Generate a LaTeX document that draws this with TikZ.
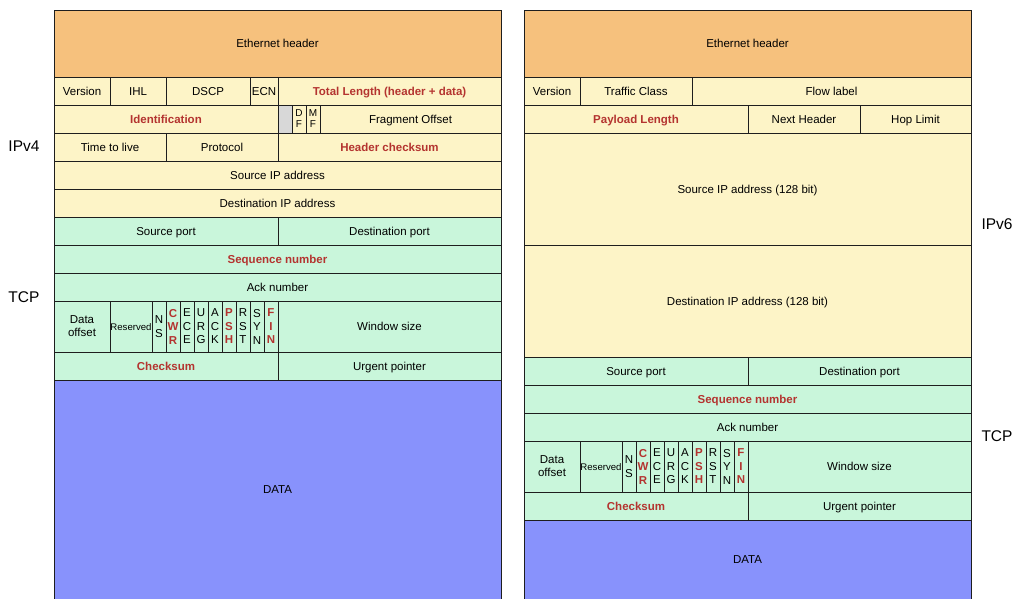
\documentclass[tikz,border=0pt]{standalone}
\usepackage{fontspec}
\setmainfont{Liberation Sans}
\definecolor{ethc}{RGB}{246,193,125}
\definecolor{ipc}{RGB}{253,244,199}
\definecolor{tcpc}{RGB}{201,246,219}
\definecolor{datac}{RGB}{136,146,252}
\definecolor{redt}{RGB}{180,52,48}
\definecolor{grayc}{RGB}{216,216,216}
\definecolor{linec}{RGB}{30,30,30}
\tikzset{
  cell/.style={draw=linec, line width=0.8pt, inner sep=0pt, outer sep=0pt, align=center,
    font=\fontsize{11.5}{13}\selectfont, text height=9.8pt, text depth=1.2pt},
  ml/.style={text height={}, text depth={}},
  eth/.style={fill=ethc},
  ip/.style={fill=ipc},
  tcp/.style={fill=tcpc},
  dat/.style={fill=datac},
  gry/.style={fill=grayc},
  hl/.style={text=redt, font=\fontsize{11.5}{13}\selectfont\bfseries},
  smallt/.style={font=\fontsize{9.6}{10}\selectfont},
  flagt/.style={ml, font=\fontsize{11.5}{13.5}\selectfont},
  flagr/.style={ml, text=redt, font=\fontsize{11.5}{13.5}\selectfont\bfseries},
  tinyt/.style={ml, font=\fontsize{10}{11}\selectfont},
  sidelabel/.style={font=\fontsize{15.5}{18}\selectfont, inner sep=0pt}
}
\newcommand{\bx}[7]{%
  \node[cell,#6,minimum width={((#4)-(#2))*1pt},minimum height={((#5)-(#3))*1pt}] (#1) at ({((#2)+(#4))/2},{((#3)+(#5))/2}) {#7};}
\newcommand{\flagrow}[5]{% prefix, x0 (data offset left), y1, y2, style
  \bx{#1off}{#2}{#3}{#2+56}{#4}{#5,ml}{Data\\offset}
  \bx{#1res}{#2+56}{#3}{#2+98}{#4}{#5,smallt}{Reserved}
  \bx{#1ns}{#2+98}{#3}{#2+112}{#4}{#5,flagt}{N\\S}
  \bx{#1cwr}{#2+112}{#3}{#2+126}{#4}{#5,flagr}{C\\W\\R}
  \bx{#1ece}{#2+126}{#3}{#2+140}{#4}{#5,flagt}{E\\C\\E}
  \bx{#1urg}{#2+140}{#3}{#2+154}{#4}{#5,flagt}{U\\R\\G}
  \bx{#1ack}{#2+154}{#3}{#2+168}{#4}{#5,flagt}{A\\C\\K}
  \bx{#1psh}{#2+168}{#3}{#2+182}{#4}{#5,flagr}{P\\S\\H}
  \bx{#1rst}{#2+182}{#3}{#2+196}{#4}{#5,flagt}{R\\S\\T}
  \bx{#1syn}{#2+196}{#3}{#2+210}{#4}{#5,flagt}{S\\Y\\N}
  \bx{#1fin}{#2+210}{#3}{#2+224}{#4}{#5,flagr}{F\\I\\N}
  \bx{#1win}{#2+224}{#3}{#2+447}{#4}{#5}{Window size}}
\begin{document}
\begin{tikzpicture}[x=1pt,y=-1pt]
\useasboundingbox (0,0) rectangle (1014,599);
\clip (0,0) rectangle (1014,599);
% ---------- left: IPv4 + TCP ----------
\bx{leth}{54}{10}{501}{77}{eth}{Ethernet header}
\bx{lver}{54}{77}{110}{105}{ip}{Version}
\bx{lihl}{110}{77}{166}{105}{ip}{IHL}
\bx{ldscp}{166}{77}{250}{105}{ip}{DSCP}
\bx{lecn}{250}{77}{278}{105}{ip}{ECN}
\bx{ltot}{278}{77}{501}{105}{ip,hl}{Total Length (header + data)}
\bx{lid}{54}{105}{278}{133}{ip,hl}{Identification}
\bx{lres}{278}{105}{292}{133}{gry}{}
\bx{ldf}{292}{105}{306}{133}{ip,tinyt}{D\\F}
\bx{lmf}{306}{105}{320}{133}{ip,tinyt}{M\\F}
\bx{lfrag}{320}{105}{501}{133}{ip}{Fragment Offset}
\bx{lttl}{54}{133}{166}{161}{ip}{Time to live}
\bx{lproto}{166}{133}{278}{161}{ip}{Protocol}
\bx{lhck}{278}{133}{501}{161}{ip,hl}{Header checksum}
\bx{lsrc}{54}{161}{501}{189}{ip}{Source IP address}
\bx{ldst}{54}{189}{501}{217}{ip}{Destination IP address}
\bx{lsport}{54}{217}{278}{245}{tcp}{Source port}
\bx{ldport}{278}{217}{501}{245}{tcp}{Destination port}
\bx{lseq}{54}{245}{501}{273}{tcp,hl}{Sequence number}
\bx{lack}{54}{273}{501}{301}{tcp}{Ack number}
\flagrow{lf}{54}{301}{352}{tcp}
\bx{lcks}{54}{352}{278}{380}{tcp,hl}{Checksum}
\bx{lurg}{278}{352}{501}{380}{tcp}{Urgent pointer}
\bx{ldata}{54}{380}{501}{605}{dat}{}
\node[font=\fontsize{11.5}{13}\selectfont] (ldatat) at (277.5,490) {DATA};
% ---------- right: IPv6 + TCP ----------
\bx{reth}{524}{10}{971}{77}{eth}{Ethernet header}
\bx{rver}{524}{77}{580}{105}{ip}{Version}
\bx{rtc}{580}{77}{692}{105}{ip}{Traffic Class}
\bx{rflow}{692}{77}{971}{105}{ip}{Flow label}
\bx{rpay}{524}{105}{748}{133}{ip,hl}{Payload Length}
\bx{rnext}{748}{105}{860}{133}{ip}{Next Header}
\bx{rhop}{860}{105}{971}{133}{ip}{Hop Limit}
\bx{rsrc}{524}{133}{971}{245}{ip}{Source IP address (128 bit)}
\bx{rdst}{524}{245}{971}{357}{ip}{Destination IP address (128 bit)}
\bx{rsport}{524}{357}{748}{385}{tcp}{Source port}
\bx{rdport}{748}{357}{971}{385}{tcp}{Destination port}
\bx{rseq}{524}{385}{971}{413}{tcp,hl}{Sequence number}
\bx{rack}{524}{413}{971}{441}{tcp}{Ack number}
\flagrow{rf}{524}{441}{492}{tcp}
\bx{rcks}{524}{492}{748}{520}{tcp,hl}{Checksum}
\bx{rurg}{748}{492}{971}{520}{tcp}{Urgent pointer}
\bx{rdata}{524}{520}{971}{605}{dat}{}
\node[font=\fontsize{11.5}{13}\selectfont] (rdatat) at (747.5,560) {DATA};
% ---------- side labels ----------
\node[sidelabel] (lip) at (24,146) {IPv4};
\node[sidelabel] (ltcp) at (24,297) {TCP};
\node[sidelabel] (rip) at (997,224) {IPv6};
\node[sidelabel] (rtcp) at (997,436) {TCP};
\end{tikzpicture}
\end{document}
